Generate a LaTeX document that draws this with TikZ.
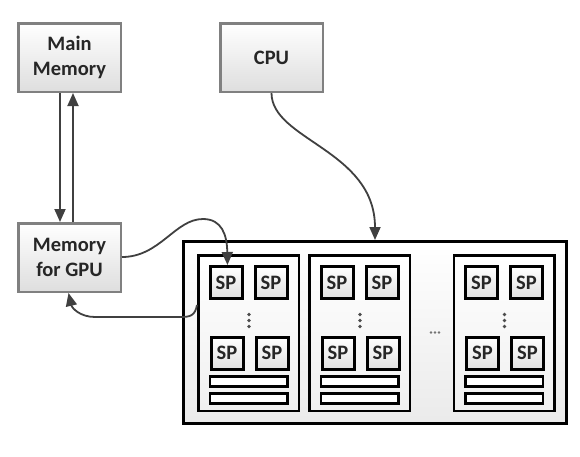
\documentclass[tikz,border=0pt]{standalone}
\usepackage{fontspec}
\setmainfont{Carlito}
\usetikzlibrary{arrows.meta,shadows}
\begin{document}
\begin{tikzpicture}[x=1pt,y=-1pt,
  lbl/.style={font=\fontsize{20.5}{25}\selectfont\bfseries, text=black!85},
  graybox/.style={lbl, draw=black!50, line width=2.5pt, top color=white, bottom color=black!13,
    align=center, inner sep=0pt, minimum width=102.5pt, minimum height=68.5pt,
    drop shadow={opacity=0.18, shadow xshift=1.5pt, shadow yshift=-1.5pt}},
  spbox/.style={lbl, draw=black, line width=3pt, top color=white, bottom color=black!12,
    inner sep=0pt, minimum width=32pt, minimum height=32pt,
    drop shadow={opacity=0.18, shadow xshift=1.5pt, shadow yshift=-1.5pt}},
  smbox/.style={draw=black, line width=2.5pt, top color=white, bottom color=black!6, minimum width=100.5pt, minimum height=155.5pt, inner sep=0pt},
  outerbox/.style={draw=black, line width=3pt, top color=white, bottom color=black!8, minimum width=383pt, minimum height=182pt, inner sep=0pt},
  barbox/.style={draw=black, line width=2.5pt, fill=white, minimum width=77.5pt, minimum height=10pt, inner sep=0pt},
  arr/.style={draw=black!75, line width=1.8pt, -{Triangle[length=13pt,width=11pt]}},
  vdot/.style={fill=black!70, circle, inner sep=0pt, minimum size=3.6pt},
  hdot/.style={fill=black!55, circle, inner sep=0pt, minimum size=2.8pt},
]
\useasboundingbox (0,0) rectangle (580,456);

\node[graybox] (mm) at (69.5,57.5) {Main\\Memory};
\node[graybox] (cpu) at (271.5,57.5) {CPU};
\node[graybox] (gm) at (69.5,257.5) {Memory\\for GPU};

\node[outerbox] (gpu) at (375,332.5) {};

\foreach \i/\cx in {1/248.5, 2/359.5, 3/504} {
  \node[smbox] (sm\i) at (\cx,333) {};
  \node[spbox] (sp\i a) at (\cx-22.5,282.5) {SP};
  \node[spbox] (sp\i b) at (\cx+22.5,282.5) {SP};
  \node[spbox] (sp\i c) at (\cx-21.5,353) {SP};
  \node[spbox] (sp\i d) at (\cx+23.5,353) {SP};
  \node[barbox] (bar\i a) at (\cx,381.5) {};
  \node[barbox] (bar\i b) at (\cx,398.5) {};
  \node[vdot] (d\i a) at (\cx+0.5,314.5) {};
  \node[vdot] (d\i b) at (\cx+0.5,320.5) {};
  \node[vdot] (d\i c) at (\cx+0.5,326.5) {};
}
\node[hdot] (e1) at (431,332.5) {};
\node[hdot] (e2) at (435,332.5) {};
\node[hdot] (e3) at (439,332.5) {};

\draw[arr] ([xshift=-9.5pt]mm.south) -- ([xshift=-9.5pt]gm.north);
\draw[arr] ([xshift=3.5pt]gm.north) -- ([xshift=3.5pt]mm.south);

\draw[arr] (cpu.south) .. controls (271.5,140) and (375,150) .. (gpu.north);

\draw[arr] ([yshift=0.5pt]gm.east) .. controls (160,257) and (175,219) .. (203,219)
  .. controls (222,219) and (227,235) .. ([xshift=1.5pt]sp1a.north);

\draw[arr] ([yshift=28pt]sm1.west) .. controls (195,316) and (190,317) .. (180,317)
  -- (95,317) .. controls (80,317) and (72,308) .. ([xshift=-1pt]gm.south);
\end{tikzpicture}
\end{document}
